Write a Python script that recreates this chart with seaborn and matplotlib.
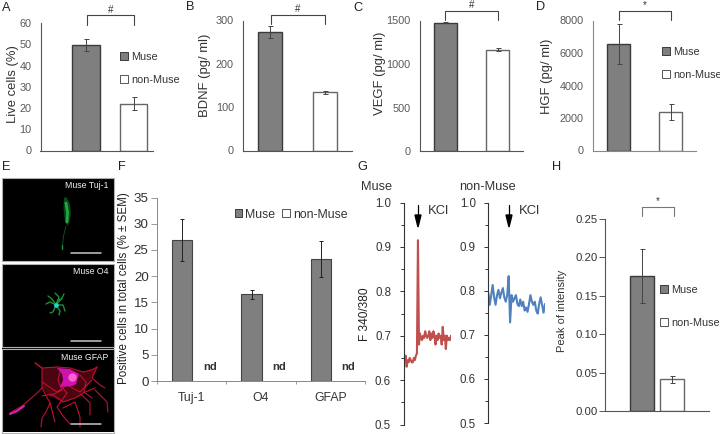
import numpy as np
import pandas as pd
import matplotlib
matplotlib.use('Agg')
import matplotlib.pyplot as plt
from matplotlib.patches import Patch
from matplotlib.transforms import Affine2D
import seaborn as sns

# values
groups = ['Muse', 'non-Muse']
live_vals = [49.5, 22]
live_err = [2.8, 3]
bdnf_vals = [273, 134]
bdnf_err = [14, 4]
vegf_vals = [1475, 1165]
vegf_err = [6, 18]
hgf_vals = [6580, 2370]
hgf_err = [1230, 520]
peak_vals = [0.176, 0.041]
peak_err = [0.035, 0.004]

markers = ['Tuj-1', 'O4', 'GFAP']
pos_vals = [26.9, 16.5, 23.3]
pos_err = [4, 0.9, 3.4]

muse_trace = [0.645, 0.64, 0.655, 0.63, 0.645, 0.64, 0.65, 0.645, 0.64, 0.64, 0.65, 0.645,
              0.655, 0.66, 0.915, 0.68, 0.705, 0.695, 0.69, 0.70, 0.695, 0.71, 0.70, 0.695,
              0.70, 0.71, 0.69, 0.705, 0.695, 0.71, 0.70, 0.68, 0.70, 0.69, 0.705, 0.695,
              0.70, 0.68, 0.72, 0.69, 0.70, 0.67, 0.70, 0.69, 0.695, 0.69, 0.70]
non_trace = [0.795, 0.768, 0.79, 0.813, 0.785, 0.768, 0.79, 0.802, 0.783, 0.795, 0.806, 0.785,
             0.775, 0.79, 0.833, 0.728, 0.79, 0.775, 0.783, 0.79, 0.77, 0.765, 0.78, 0.765,
             0.775, 0.755, 0.762, 0.752, 0.77, 0.79, 0.775, 0.768, 0.775, 0.755, 0.748, 0.77,
             0.785, 0.768, 0.75, 0.77]

# cell sketches for the micrographs, in picture pixels
tuj_x = [[64, 63.5, 65, 68, 71, 70, 67, 65.5]]
tuj_y = [[198, 208, 222, 226, 214, 204, 198, 197]]
o4_arms_x = [[56, 50, 46], [56, 52, 48], [56, 59, 55], [56, 62, 64], [56, 63, 65], [56, 60, 59], [56, 53, 50], [56, 58, 62]]
o4_arms_y = [[305, 302, 304], [305, 299, 296], [305, 297, 293], [305, 298, 294], [305, 305, 311], [305, 311, 315], [305, 312, 313], [305, 300, 299]]
gfap_x = [[10, 22, 35, 42, 42, 35], [35, 42, 57, 70, 83, 92, 97], [97, 92, 100, 105], [42, 50, 55],
          [50, 46, 42, 41], [63, 75, 80, 80], [82, 90, 90], [95, 107, 108], [60, 67, 57, 63, 70], [42, 57, 67, 80, 92],
          [42, 52, 63, 75, 85, 95], [60, 58, 62, 50], [80, 86, 84, 92]]
gfap_y = [[413, 406, 395, 388, 368, 363], [363, 368, 367, 368, 372, 370, 367], [367, 378, 385, 388], [388, 403, 422],
          [403, 412, 418, 427], [408, 402, 417, 427], [395, 403, 415], [390, 402, 412], [385, 393, 407, 416, 424],
          [382, 392, 385, 392, 380], [396, 394, 402, 398, 392, 388], [372, 380, 390, 396], [375, 382, 392, 398]]

DARK = '#7f7f7f'
EDGE = '#3a3a3a'
GREY_TXT = '#595959'

W, H = 720, 434
sns.set_theme(style='white')
plt.rcParams['font.family'] = ['Liberation Sans', 'DejaVu Sans']

fig = plt.figure(figsize=(W / 100, H / 100), dpi=100, facecolor='white')


def px_axes(x0, x1, y_top, y_bot):
    ax = fig.add_axes([x0 / W, 1 - y_bot / H, (x1 - x0) / W, (y_bot - y_top) / H])
    ax.patch.set_alpha(0)
    return ax


# pixel to figure transform, y pointing down like the picture
px = Affine2D().scale(1 / W, -1 / H).translate(0, 1) + fig.transFigure


def bar_panel(box, centers, bar_w, vals, errs, ymax, step, ylabel, lab_x, tick_fs, lab_fs, col, spine,
              fmt=None, lab_y=None):
    ax = px_axes(*box)
    df = pd.DataFrame({'group': groups, 'value': vals})
    unit = centers[1] - centers[0]
    sns.barplot(data=df, x='group', y='value', hue='group', palette=[DARK, 'white'], dodge=False, legend=False,
                width=bar_w / unit, edgecolor=EDGE, linewidth=1.0, ax=ax)
    ax.patches[1].set_edgecolor('#666666')
    ax.errorbar([0, 1], vals, yerr=errs, fmt='none', ecolor='#444444', elinewidth=0.7, capsize=1.8, capthick=0.7)
    ax.set_xlim((box[0] - centers[0]) / unit, (box[1] - centers[0]) / unit)
    ax.set_ylim(0, ymax)
    ticks = np.arange(0, ymax + step / 2, step)
    ax.set_yticks(ticks)
    ax.set_yticklabels([fmt % t if fmt else '%d' % t for t in ticks], fontsize=tick_fs, color=col)
    ax.set_xticks([])
    ax.set_xlabel('')
    ax.set_ylabel('')
    ax.tick_params(axis='y', length=0, pad=6.5)
    sns.despine(ax=ax)
    ax.spines['left'].set_color(spine)
    ax.spines['bottom'].set_color(spine)
    ax.spines['left'].set_linewidth(0.8)
    ax.spines['bottom'].set_linewidth(0.8)
    fig.text(lab_x / W, 1 - (lab_y or (box[2] + box[3]) / 2) / H, ylabel, rotation=90, fontsize=lab_fs,
             ha='center', va='center', color='#333333')
    return ax


def bracket(x0, x1, y_top, y_bot, mark, color='#444444'):
    fig.add_artist(plt.Line2D([x0, x0, x1, x1], [y_bot, y_top, y_top, y_bot], transform=px, color=color, lw=0.8))
    fig.text((x0 + x1) / 2 / W, 1 - (y_top - 5) / H, mark, fontsize=7, ha='center', va='center', color='#333333')


def legend(x, y, gap, ncol=1, fs=7.8, hl=0.75):
    handles = [Patch(facecolor=DARK, edgecolor=EDGE, lw=0.7), Patch(facecolor='white', edgecolor='#555555', lw=0.7)]
    leg = fig.legend(handles, groups, loc='upper left', bbox_to_anchor=(x / W, 1 - y / H), ncol=ncol, frameon=False,
                     fontsize=fs, handlelength=hl, handleheight=hl, handletextpad=0.25, labelspacing=gap,
                     columnspacing=0.6, borderpad=0, borderaxespad=0, labelcolor='#333333')
    return leg


# top row
bar_panel((40.5, 153, 23, 150.5), (86, 133.5), 27.5, live_vals, live_err, 60, 10, 'Live cells (%)', 13, 7.8, 9.4,
          GREY_TXT, '#555555', lab_y=84)
bar_panel((243, 352, 20.5, 150.5), (270, 324.5), 24, bdnf_vals, bdnf_err, 300, 100, 'BDNF (pg/ ml)', 205, 7.8, 9.4,
          GREY_TXT, '#555555', lab_y=75)
bar_panel((419.5, 523, 20.5, 151), (445, 497.5), 23, vegf_vals, vegf_err, 1500, 500, 'VEGF (pg/ ml)', 380, 7.8, 9.4,
          GREY_TXT, '#555555', lab_y=73)
bar_panel((592.5, 696, 20.5, 150.5), (618.5, 670.5), 23, hgf_vals, hgf_err, 8000, 2000, 'HGF (pg/ ml)', 547, 7.8, 9.4,
          GREY_TXT, '#888888', lab_y=76)

bracket(86.5, 134, 15, 25, '#')
bracket(270.5, 324.5, 14.5, 24, '#')
bracket(445, 497.5, 10.5, 20, '#')
bracket(618.5, 670.5, 10.5, 20, '*')

legend(120, 52, 1.2)
legend(662, 47, 1.2)

# panel F
ax_f = px_axes(157, 365, 197.5, 381)
pos_df = pd.DataFrame({'marker': markers, 'value': pos_vals})
sns.barplot(data=pos_df, x='marker', y='value', color=DARK, saturation=1, width=20 / 69, edgecolor='#444444',
            linewidth=0.8, ax=ax_f)
# Muse bars sit left of each group centre
for bar in ax_f.patches:
    bar.set_x(bar.get_x() - 0.137)
pos_x = np.arange(3) - 0.137
ax_f.errorbar(pos_x, pos_vals, yerr=pos_err, fmt='none', ecolor='#222222', elinewidth=0.7, capsize=1.6, capthick=0.7)
for i in range(3):
    ax_f.text(i + 0.26, 2.75, 'nd', fontsize=8, fontweight='bold', ha='center', va='center', color='#333333')
ax_f.set_xlim(-0.5, 2.5)
ax_f.set_ylim(0, 35)
ax_f.set_yticks(np.arange(0, 36, 5))
ax_f.set_yticklabels(['%d' % t for t in np.arange(0, 36, 5)], fontsize=9.6, color='#333333')
ax_f.set_xticks([-0.5, 0.5, 1.5, 2.5], minor=True)
ax_f.set_xticks([0, 1, 2])
ax_f.set_xticklabels(markers, fontsize=8.8, color='#333333')
ax_f.tick_params(axis='x', which='major', length=0, pad=8)
ax_f.tick_params(axis='x', which='minor', length=2.5, width=0.6, color='#888888', bottom=True)
ax_f.tick_params(axis='y', length=4, width=0.6, color='#888888', left=True, pad=2)
ax_f.set_xlabel('')
ax_f.set_ylabel('')
sns.despine(ax=ax_f)
ax_f.spines['left'].set_color('#888888')
ax_f.spines['bottom'].set_color('#888888')
ax_f.spines['left'].set_linewidth(0.7)
ax_f.spines['bottom'].set_linewidth(0.7)
fig.text(124.5 / W, 1 - 288 / H, 'Positive cells in total cells (% ± SEM)', rotation=90, fontsize=8.4, ha='center',
         va='center', color='#222222')
legend(234.5, 208.5, 1.0, ncol=2, fs=8.8, hl=0.62)


# panel G
def trace_panel(box, trace, color, title, title_x):
    ax = px_axes(*box)
    sns.lineplot(x=np.arange(len(trace)), y=trace, color=color, lw=1.5, ax=ax)
    ax.set_xlim(0, len(trace) - 1)
    ax.set_ylim(0.5, 1.0)
    ax.set_xticks([])
    ax.set_yticks(np.arange(0.5, 1.01, 0.1))
    ax.set_yticklabels(['%.1f' % t for t in np.arange(0.5, 1.01, 0.1)], fontsize=8.3, color='#333333')
    ax.set_yticks(np.arange(0.55, 1.0, 0.1), minor=True)
    ax.tick_params(axis='y', which='major', length=3, width=0.7, color='#333333', left=True, pad=6)
    ax.tick_params(axis='y', which='minor', length=2.5, width=0.7, color='#333333', left=True)
    sns.despine(ax=ax, bottom=True)
    ax.spines['left'].set_color('#333333')
    ax.spines['left'].set_linewidth(0.8)
    fig.text(title_x / W, 1 - 187 / H, title, fontsize=9.2, ha='left', va='center', color='#333333')
    return ax


trace_panel((403.5, 451, 202.5, 424.5), muse_trace, '#c0504d', 'Muse', 361.5)
trace_panel((488.3, 545, 202.5, 423), non_trace, '#4f81bd', 'non-Muse', 459)
fig.text(365.5 / W, 1 - 314 / H, 'F 340/380', rotation=90, fontsize=8.6, ha='center', va='center', color='#222222')
for ax_x, lab_x in [(418, 428), (509, 519)]:
    fig.add_artist(plt.Line2D([ax_x, ax_x], [205, 218], transform=px, color='black', lw=0.9))
    fig.add_artist(plt.Polygon([[ax_x - 3, 215], [ax_x + 3, 215], [ax_x, 227]], closed=True, transform=px, color='black'))
    fig.text(lab_x / W, 1 - 210.5 / H, 'KCl', fontsize=9.4, ha='left', va='center', color='#333333')

# panel H
bar_panel((605.3, 709, 218.7, 411), (642, 672), 24, peak_vals, peak_err, 0.25, 0.05, 'Peak of intensity', 562, 8.2,
          8, '#333333', '#555555', fmt='%.2f', lab_y=311)
ax_h = fig.axes[-1]
ax_h.tick_params(axis='y', length=4, width=0.7, color='#555555', left=True, pad=1.5)
bracket(641.5, 673.5, 206.5, 216, '*', color='#777777')
legend(660, 285, 2.1, fs=7.8)

# panel E, micrographs drawn as black frames with sketched cells
img_ax = fig.add_axes([0, 0, 1, 1])
img_ax.set_xlim(0, W)
img_ax.set_ylim(H, 0)
img_ax.axis('off')
img_ax.patch.set_alpha(0)
for top, bot in [(178, 261), (264, 346.7), (349, 432.5)]:
    img_ax.imshow(np.zeros((2, 2, 3)), extent=(1.5, 113.5, bot, top), aspect='auto', zorder=1)
    img_ax.plot([1.5, 113.5, 113.5, 1.5, 1.5], [top, top, bot, bot, top], color='#b0b0b0', lw=0.8, zorder=2)
img_ax.set_xlim(0, W)
img_ax.set_ylim(H, 0)

for xs, ys in zip(tuj_x, tuj_y):
    img_ax.fill(xs, ys, color='#0b5a20', alpha=0.8, lw=0, zorder=3)
img_ax.plot([66, 63.5, 62.5], [226, 236, 246], color='#0d5a20', lw=0.6, zorder=3)
img_ax.plot([66, 67.5, 67], [203, 212, 222], color='#2bbf55', lw=2.0, alpha=0.8, zorder=4)
img_ax.plot([62, 62], [245, 249], color='#1f8f40', lw=1.0, zorder=4)
for xs, ys in zip(o4_arms_x, o4_arms_y):
    img_ax.plot(xs, ys, color='#1c8f30', lw=1.0, zorder=3)
img_ax.plot([56], [305], 'o', color='#20d8d0', ms=3.4, mew=0, zorder=4)
img_ax.fill([42, 57, 83, 97, 92, 82, 63, 50, 42], [368, 367, 372, 367, 378, 396, 402, 396, 388], color='#4a0510', lw=0, zorder=2.5)
for xs, ys in zip(gfap_x, gfap_y):
    img_ax.plot(xs, ys, color='#c01030', lw=0.8, zorder=3)
img_ax.plot([10, 17, 24], [414, 411, 406], color='#e020c0', lw=1.4, zorder=4)
img_ax.fill([57, 70, 79, 76, 72, 60, 63, 62], [368, 369, 374, 384, 386, 387, 380, 374], color='#d010b0', lw=0, zorder=4)
img_ax.plot([71.5], [377], 'o', color='#ff60d0', ms=6, mew=0, zorder=5)

for xs, y in [((71, 101), 252.5), ((71, 101), 341.2), ((71, 101), 424.3)]:
    img_ax.plot(xs, [y, y], color='#c8c8c8', lw=1.1, zorder=6)
for label, y in [('Muse Tuj-1', 186), ('Muse O4', 272), ('Muse GFAP', 357)]:
    img_ax.text(108.5, y, label, fontsize=6.3, color='#f0f0f0', ha='right', va='center', zorder=6)

# panel letters
for label, x, y in [('A', 2, 8), ('B', 186, 7), ('C', 353, 8), ('D', 536, 7), ('E', 2, 167), ('F', 118, 167),
                    ('G', 357, 167), ('H', 552, 167)]:
    fig.text(x / W, 1 - y / H, label, fontsize=9.2, ha='left', va='center', color='#222222')

fig.savefig('out.png', dpi=100)
